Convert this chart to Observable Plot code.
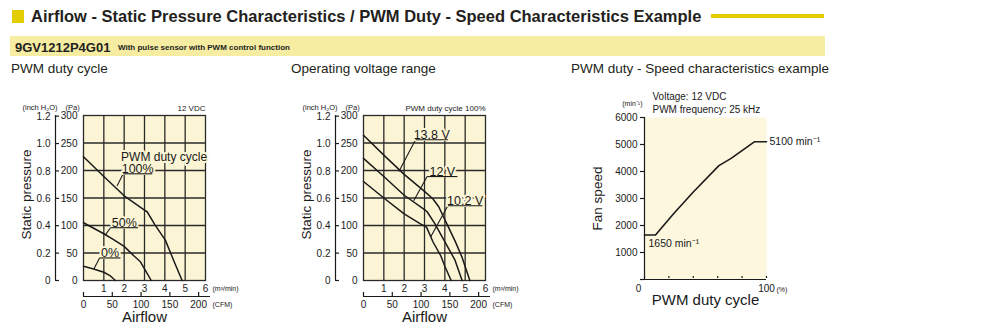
<!DOCTYPE html>
<html><head><meta charset="utf-8">
<script src="https://cdn.jsdelivr.net/npm/d3@7"></script>
<script src="https://cdn.jsdelivr.net/npm/@observablehq/plot@0.6"></script>
<style>
body{margin:0;background:#fff;}
#root{position:relative;width:1000px;height:334px;overflow:hidden;font-family:"Liberation Sans",Arial,sans-serif;color:#231f20;}
.abs{position:absolute;white-space:nowrap;line-height:1;}
.panel{position:absolute;top:90px;}
.panel svg{overflow:visible;}
</style></head><body><div id="root">
<div class="abs" style="left:12px;top:10px;width:12px;height:13px;background:#e3cd00"></div>
<div class="abs" id="title" style="left:31px;top:7.8px;font-weight:bold;font-size:16.5px;">Airflow - Static Pressure Characteristics / PWM Duty - Speed Characteristics Example</div>
<div class="abs" style="left:711px;top:14px;width:113px;height:4px;background:#e3cd00"></div>
<div class="abs" style="left:10px;top:36px;width:815px;height:20px;background:#f6eca2"></div>
<div class="abs" style="left:15px;top:40.5px;font-weight:bold;font-size:13px;">9GV1212P4G01</div>
<div class="abs" style="left:118px;top:44px;font-weight:bold;font-size:8px;">With pulse sensor with PWM control function</div>
<div class="abs" style="left:11px;top:62px;font-size:13.5px;">PWM duty cycle</div>
<div class="abs" style="left:291px;top:62px;font-size:13.5px;">Operating voltage range</div>
<div class="abs" style="left:571px;top:62px;font-size:13.5px;">PWM duty - Speed characteristics example</div>
<div class="panel" id="p1" style="left:0px"></div>
<div class="panel" id="p2" style="left:280px"></div>
<div class="panel" id="p3" style="left:560px"></div>
</div>
<script>
// ---------- data ----------
const flowTicks = [1, 2, 3, 4, 5, 6];
const paTicks = [0, 50, 100, 150, 200, 250, 300];
const inchTicks = ["0", "0.2", "0.4", "0.6", "0.8", "1.0", "1.2"];
const cfmTicks = [0, 50, 100, 150, 200];
const cfmPerM3 = 35.315;
const paPerInch = 249;

// PWM duty cycle panel (12 VDC)
const pwm100Flow = [0, 1, 2, 3, 3.13, 3.5, 4.03, 4.44, 4.85];
const pwm100Pa   = [225, 189, 154, 128, 125, 102, 73, 36, 0];
const pwm50Flow  = [0, 0.5, 1, 1.5, 2, 2.5, 2.8, 3.05, 3.33];
const pwm50Pa    = [105, 95, 85, 74, 62, 44, 34, 18, 0];
const pwm0Flow   = [0, 0.5, 1, 1.3, 1.57];
const pwm0Pa     = [26, 21, 15, 9, 0];
const pwmLabels  = ["100%", "50%", "0%"];
const pwmLabelX1 = [1.95, 1.33, 0.79];
const pwmLabelX2 = [3.38, 2.68, 1.82];
const pwmLabelPa = [194, 96, 41];
const pwmArrowX  = [1.65, 1.06, 0.51];
const pwmArrowPa = [172, 82, 21];

// Operating voltage range panel (PWM 100%)
const v138Flow = [0, 1, 2, 3, 3.4, 3.7, 4.1, 4.5, 4.85, 5.23];
const v138Pa   = [264, 228, 193, 162, 149, 134, 103, 72, 42, 0];
const v12Flow  = [0, 1, 2, 3, 3.13, 3.5, 3.95, 4.5, 4.85];
const v12Pa    = [222, 189, 155, 129, 125, 104, 74, 37, 0];
const v102Flow = [0, 1, 2, 2.8, 3.1, 3.42, 3.8, 4.0, 4.31];
const v102Pa   = [180, 150, 121, 103, 97, 70, 45, 26, 0];
const voltLabels  = ["13.8 V", "12 V", "10.2 V"];
const voltLabelX1 = [2.56, 3.13, 4.15];
const voltLabelX2 = [4.15, 4.62, 5.85];
const voltLabelPa = [256, 189, 136];
const voltArrowX  = [1.74, 2.47, 3.3];
const voltArrowPa = [198, 145, 79];

// PWM duty - speed panel
const rpmTicks  = [0, 1000, 2000, 3000, 4000, 5000, 6000];
const dutyTicks = [0, 20, 40, 60, 80, 100];
const dutyPct   = [0, 9, 24, 40, 61, 71, 90, 100];
const speedRpm  = [1650, 1650, 2445, 3240, 4218, 4487, 5100, 5100];

// ---------- style ----------
const cream = "#fcf5d5", cream2 = "#fdf7de", ink = "#1a1a1a", gridC = "#2a2a2a";
const sans = '"Liberation Sans",Arial,sans-serif';

function pressurePanel(curves, ann, note, extra) {
  const rows = curves.flatMap((c, k) => c.flow.map((f, i) => ({flow: f, pa: c.pa[i], k})));
  const annRows = ann.text.map((t, i) => ({t, x1: ann.x1[i], x2: ann.x2[i], p: ann.p[i], ax: ann.ax[i], ap: ann.ap[i]}));
  return Plot.plot({
    width: 270, height: 244,
    marginLeft: 83, marginRight: 65, marginTop: 25, marginBottom: 54,
    x: {domain: [0, 6], axis: null},
    y: {domain: [0, 300], axis: null},
    style: {fontFamily: sans, fontSize: "10px", color: ink, background: "transparent", overflow: "visible"},
    marks: [
      Plot.frame({fill: cream, stroke: null}),
      Plot.ruleX(flowTicks.slice(0, -1), {x: d => d, stroke: gridC, strokeWidth: 1.3}),
      Plot.ruleY(paTicks.slice(1, -1), {y: d => d, stroke: gridC, strokeWidth: 1.3}),
      Plot.frame({stroke: gridC, strokeWidth: 1.3}),
      Plot.line(rows, {x: "flow", y: "pa", z: "k", stroke: ink, strokeWidth: 1.5}),
      Plot.link(annRows, {x1: "x1", y1: "p", x2: "ax", y2: "ap", stroke: ink, strokeWidth: 1.1}),
      ...(extra ? [Plot.text([extra.text], {x: () => extra.x, y: () => extra.p, textAnchor: "start", lineAnchor: "bottom", fontSize: 12, fill: ink, stroke: cream, strokeWidth: 4})] : []),
      Plot.text(annRows, {x: d => (d.x1 + d.x2) / 2, y: "p", text: "t", lineAnchor: "bottom", dy: -0.5, fontSize: 12.5, fill: ink, stroke: cream, strokeWidth: 4}),
      Plot.link(annRows, {x1: "x1", y1: "p", x2: "x2", y2: "p", stroke: ink, strokeWidth: 1.1}),
      // Pa axis labels
      Plot.text(paTicks, {x: () => 0, y: d => d, text: d => String(d), dx: -6, dy: 0.5, textAnchor: "end", fill: ink}),
      // inch H2O axis
      Plot.ruleX([0], {x: d => d, y1: () => 0, y2: () => 300, dx: -28, stroke: ink, strokeWidth: 1.2}),
      Plot.ruleY(inchTicks, {y: d => +d * paPerInch, x1: () => 0, x2: () => 0, insetRight: -4, dx: -28, stroke: ink, strokeWidth: 1.2}),
      Plot.text(inchTicks, {x: () => 0, y: d => +d * paPerInch, text: d => d, dx: -33, dy: 0.5, textAnchor: "end", fill: ink}),
      Plot.text(["(inch H₂O)"], {frameAnchor: "top-left", dx: -61, dy: -8, textAnchor: "start", lineAnchor: "middle", fontSize: 7.5, fill: ink}),
      Plot.text(["(Pa)"], {frameAnchor: "top-left", dx: -18, dy: -8, textAnchor: "start", lineAnchor: "middle", fontSize: 7.5, fill: ink}),
      Plot.text([note], {frameAnchor: "top-right", dy: -7, textAnchor: "end", lineAnchor: "middle", fontSize: 8, fill: ink}),
      // m3/min labels
      Plot.text(flowTicks, {x: d => d, y: () => 0, dy: 8, text: d => String(d), lineAnchor: "middle", fill: ink}),
      Plot.text(["(m³/min)"], {x: () => 6, y: () => 0, dx: 7, dy: 8, textAnchor: "start", lineAnchor: "middle", fontSize: 7, fill: ink}),
      // CFM axis
      Plot.ruleY([0], {y: d => d, x1: () => 0, x2: () => 6, insetRight: -5, dy: 16, stroke: ink, strokeWidth: 1.2}),
      Plot.ruleX(cfmTicks, {x: d => d / cfmPerM3, y1: () => 0, y2: () => 0, insetBottom: 4, dy: 16, stroke: ink, strokeWidth: 1.2}),
      Plot.text(cfmTicks, {x: d => d / cfmPerM3, y: () => 0, dy: 24.5, text: d => String(d), lineAnchor: "middle", fill: ink}),
      Plot.text(["(CFM)"], {x: () => 6, y: () => 0, dx: 7, dy: 24.5, textAnchor: "start", lineAnchor: "middle", fontSize: 7, fill: ink}),
      // titles
      Plot.text(["Airflow"], {frameAnchor: "bottom", dy: 37, textAnchor: "middle", lineAnchor: "middle", fontSize: 15, fill: ink}),
      Plot.text(["Static pressure"], {frameAnchor: "left", dx: -57, dy: -3.5, rotate: -90, textAnchor: "middle", lineAnchor: "middle", fontSize: 13.5, fill: ink})
    ]
  });
}

document.getElementById("p1").append(pressurePanel(
  [{flow: pwm100Flow, pa: pwm100Pa}, {flow: pwm50Flow, pa: pwm50Pa}, {flow: pwm0Flow, pa: pwm0Pa}],
  {text: pwmLabels, x1: pwmLabelX1, x2: pwmLabelX2, p: pwmLabelPa, ax: pwmArrowX, ap: pwmArrowPa},
  "12 VDC",
  {text: "PWM duty cycle", x: 1.85, p: 217}
));
document.getElementById("p2").append(pressurePanel(
  [{flow: v138Flow, pa: v138Pa}, {flow: v12Flow, pa: v12Pa}, {flow: v102Flow, pa: v102Pa}],
  {text: voltLabels, x1: voltLabelX1, x2: voltLabelX2, p: voltLabelPa, ax: voltArrowX, ap: voltArrowPa},
  "PWM duty cycle 100%",
  null
));

const speedRows = dutyPct.map((d, i) => ({duty: d, rpm: speedRpm[i]}));
const nLast = speedRows.length - 1;
document.getElementById("p3").append(Plot.plot({
  width: 300, height: 244,
  marginLeft: 84, marginRight: 94, marginTop: 27, marginBottom: 55,
  x: {domain: [0, 100], axis: null},
  y: {domain: [0, 6000], axis: null},
  style: {fontFamily: sans, fontSize: "10px", color: ink, background: "transparent", overflow: "visible"},
  marks: [
    Plot.frame({fill: cream2, stroke: null}),
    Plot.ruleX([0], {x: d => d, y1: () => 0, y2: () => 6000, stroke: ink, strokeWidth: 1.2}),
    Plot.ruleY([0], {y: d => d, x1: () => 0, x2: () => 100, stroke: ink, strokeWidth: 1.2}),
    Plot.ruleY(rpmTicks, {y: d => d, x1: () => 0, x2: () => 0, insetLeft: -4, stroke: ink, strokeWidth: 1.2}),
    Plot.ruleX(dutyTicks, {x: d => d, y1: () => 0, y2: () => 0, insetBottom: 3, insetTop: -1, stroke: ink, strokeWidth: 1.2}),
    Plot.text(rpmTicks.filter(d => d > 0), {x: () => 0, y: d => d, text: d => String(d), dx: -7, textAnchor: "end", fill: ink}),
    Plot.text([dutyTicks[0]], {x: d => d, y: () => 0, dx: -6, dy: 9.5, text: d => String(d), lineAnchor: "middle", fill: ink}),
    Plot.text([dutyTicks[dutyTicks.length - 1]], {x: d => d, y: () => 0, dy: 9.5, text: d => String(d), lineAnchor: "middle", fill: ink}),
    Plot.text(["(%)"], {x: () => 100, y: () => 0, dx: 10, dy: 10, textAnchor: "start", lineAnchor: "middle", fontSize: 7, fill: ink}),
    Plot.text(["(min⁻¹)"], {frameAnchor: "top-left", dx: -2, dy: -14, textAnchor: "end", lineAnchor: "middle", fontSize: 7, fill: ink}),
    Plot.text(["Voltage: 12 VDC"], {frameAnchor: "top-left", dx: 8, dy: -21, textAnchor: "start", lineAnchor: "middle", fontSize: 10, fill: ink}),
    Plot.text(["PWM frequency: 25 kHz"], {frameAnchor: "top-left", dx: 8, dy: -8, textAnchor: "start", lineAnchor: "middle", fontSize: 10, fill: ink}),
    Plot.line(speedRows, {x: "duty", y: "rpm", stroke: ink, strokeWidth: 1.6}),
    Plot.text([speedRows[nLast]], {x: "duty", y: "rpm", text: d => `${d.rpm} min⁻¹`, dx: 3, textAnchor: "start", lineAnchor: "middle", fontSize: 10.5, fill: ink}),
    Plot.text([speedRows[0]], {x: "duty", y: "rpm", text: d => `${d.rpm} min⁻¹`, dx: 4, dy: 9, textAnchor: "start", lineAnchor: "middle", fontSize: 10.5, fill: ink}),
    Plot.text(["PWM duty cycle"], {frameAnchor: "bottom", dy: 21, textAnchor: "middle", lineAnchor: "middle", fontSize: 15, fill: ink}),
    Plot.text(["Fan speed"], {frameAnchor: "left", dx: -47, rotate: -90, textAnchor: "middle", lineAnchor: "middle", fontSize: 13.5, fill: ink})
  ]
}));
</script></body></html>
